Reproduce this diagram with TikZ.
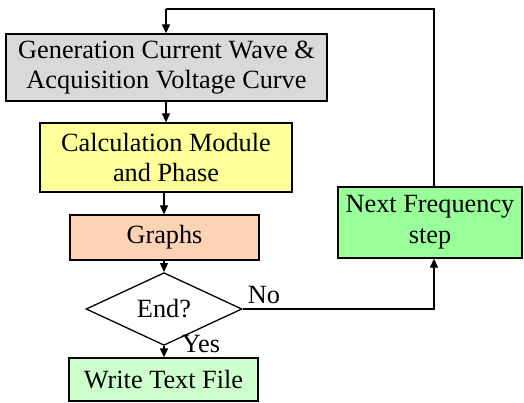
\documentclass[tikz,border=0pt]{standalone}
\usepackage{fontspec}
\setmainfont{Liberation Serif}
\usetikzlibrary{shapes.geometric,arrows.meta}
\definecolor{boxgray}{HTML}{D9D9D9}
\definecolor{boxyellow}{HTML}{FFFF99}
\definecolor{boxorange}{HTML}{FCD3B4}
\definecolor{boxgreen}{HTML}{99FF99}
\definecolor{boxlight}{HTML}{CCFFCC}
\begin{document}
\begin{tikzpicture}[x=1pt,y=-1pt,
  every node/.style={font=\fontsize{26.3}{30.7}\selectfont},
  stepbox/.style={draw=black,line width=1.3pt,rectangle,align=center,inner sep=0pt},
  decision/.style={draw=black,line width=1.3pt,diamond,inner sep=0pt},
  conn/.style={line width=1.3pt,-{Triangle[length=9pt,width=8pt]}},
  plain/.style={line width=1.3pt}]
\useasboundingbox (0,0) rectangle (524,403);
\node[stepbox,fill=boxgray,minimum width=321pt,minimum height=67pt] (gen) at (166.5,67.5)
  {Generation Current Wave \&\\Acquisition Voltage Curve};
\node[stepbox,fill=boxyellow,minimum width=252pt,minimum height=69pt] (calc) at (166,157.5)
  {Calculation Module\\and Phase};
\node[stepbox,fill=boxorange,minimum width=189pt,minimum height=45pt] (graphs) at (164.5,237.5)
  {Graphs};
\node[decision,minimum width=156pt,minimum height=52pt] (end) at (164,309) {End?};
\node[stepbox,fill=boxlight,minimum width=189pt,minimum height=43pt] (write) at (163.5,379.5)
  {Write Text File};
\node[stepbox,fill=boxgreen,minimum width=184pt,minimum height=71pt] (next) at (430,222.5)
  {Next Frequency\\step};
\coordinate (tl) at (166,9);
\coordinate (tr) at (434,9);
\coordinate (br) at (434,309);
\draw[conn] (gen.south -| 166,0) -- (calc.north -| 166,0);
\draw[conn] (calc.south -| 164,0) -- (graphs.north -| 164,0);
\draw[conn] (graphs.south -| 164,0) -- (end.north);
\draw[conn] (end.south) -- (write.north -| end.south);
\draw[conn] (end.east) -- (br) -- (next.south -| br);
\draw[plain] (next.north -| tr) -- (tr) -- (tl);
\draw[conn] (tl) -- (gen.north -| tl);
\node[inner sep=0pt] (no) at (264,295) {No};
\node[inner sep=0pt] (yes) at (201,344) {Yes};
\end{tikzpicture}
\end{document}
